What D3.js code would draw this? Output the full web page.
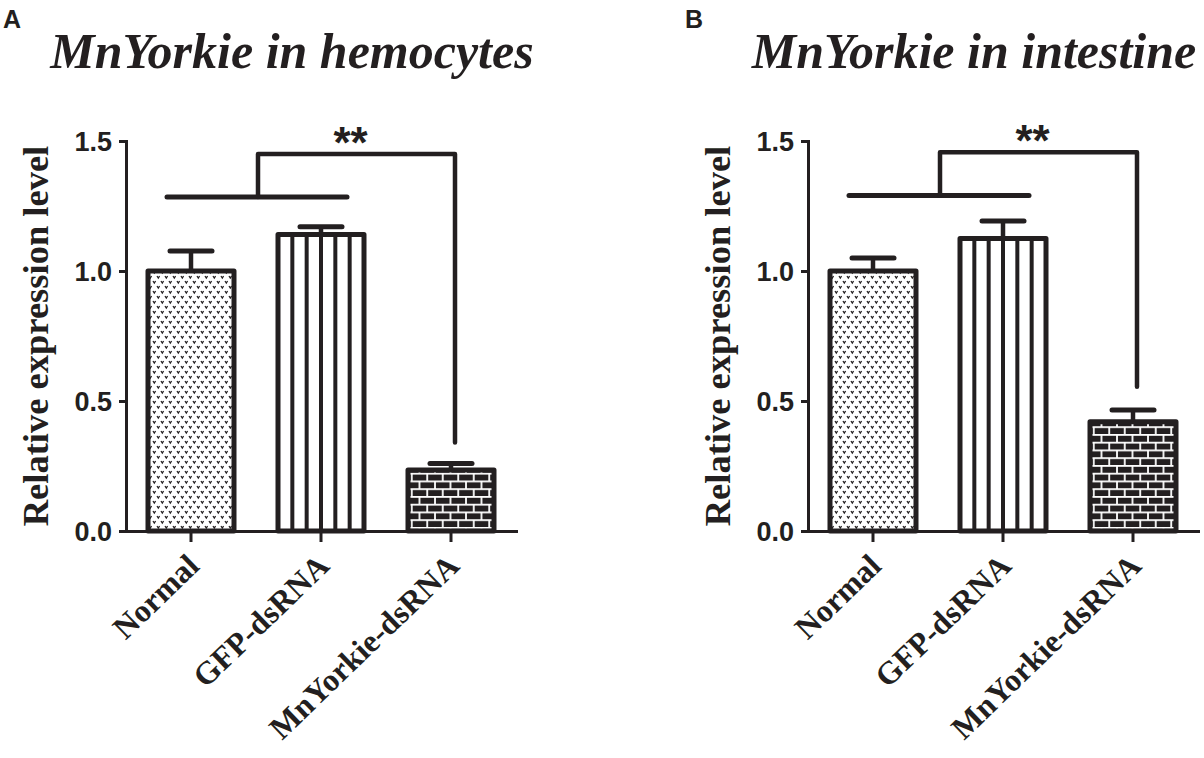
<!DOCTYPE html>
<html>
<head>
<meta charset="utf-8">
<script src="https://cdn.jsdelivr.net/npm/d3@7"></script>
<style>
  body { margin: 0; background: #fff; }
  svg { display: block; }
</style>
</head>
<body>
<script>
// 数据
const categories = ['Normal', 'GFP-dsRNA', 'MnYorkie-dsRNA']
const hemocytesMean = [1.0, 1.14, 0.235]
const hemocytesErr = [0.077, 0.03, 0.025]
const intestineMean = [1.0, 1.125, 0.42]
const intestineErr = [0.05, 0.067, 0.045]
const yTicks = [0.0, 0.5, 1.0, 1.5]
const titles = ['MnYorkie in hemocytes', 'MnYorkie in intestine']
const panelLetters = ['A', 'B']
const sigText = '**'
// 显著性括号: 组线高度, 顶部高度, 右端下降到
const groupLineY = [1.285, 1.29]
const bracketTopY = [1.45, 1.457]
const bracketEndY = [0.34, 0.555]

const ink = '#231f20'
const W = 1204, H = 758

const svg = d3.select('body').append('svg').attr('width', W).attr('height', H)

// 图案
const defs = svg.append('defs')

// 点状 v 图案
const dots = defs.append('pattern').attr('id', 'dots')
  .attr('patternUnits', 'userSpaceOnUse').attr('width', 8).attr('height', 10)
dots.append('rect').attr('width', 8).attr('height', 10).attr('fill', '#fff')
dots.selectAll('path').data([[1, 1], [5, 6]]).enter().append('path')
  .attr('d', d => `M${d[0]},${d[1]} l1.3,2 l1.3,-2`)
  .attr('fill', 'none').attr('stroke', ink).attr('stroke-width', 1.3)

// 砖块图案
const bw = 15.5, bh = 7.75
const brick = defs.append('pattern').attr('id', 'brick')
  .attr('patternUnits', 'userSpaceOnUse').attr('width', bw).attr('height', bh * 2)
brick.append('rect').attr('width', bw).attr('height', bh * 2).attr('fill', ink)
brick.append('g').attr('stroke', '#fff').attr('stroke-width', 1.8)
  .selectAll('line').data([
    [0, 0.9, bw, 0.9], [0, bh + 0.9, bw, bh + 0.9],
    [1, 0.9, 1, bh + 0.9], [1 + bw / 2, bh + 0.9, 1 + bw / 2, bh * 2 + 0.9]
  ]).enter().append('line')
  .attr('x1', d => d[0]).attr('y1', d => d[1]).attr('x2', d => d[2]).attr('y2', d => d[3])

const fills = ['url(#dots)', '#fff', 'url(#brick)']

let margin = { left: 126, top: 141, plotW: 390, plotH: 390 }

function drawPanel(i, means, errs) {
  const off = i * 682
  const g = svg.append('g').attr('transform', `translate(${off},0)`)

  const x = d3.scaleBand().domain(categories)
    .range([margin.left, margin.left + margin.plotW])
    .paddingInner(0.3).paddingOuter(0.15)
  const y = d3.scaleLinear().domain([0, 1.5])
    .range([margin.top + margin.plotH, margin.top])

  // 标题和字母
  g.append('text').attr('x', 3).attr('y', 28).text(panelLetters[i])
    .attr('font-family', 'Liberation Sans, Arial').attr('font-weight', 'bold')
    .attr('font-size', 25).attr('fill', ink)
  g.append('text').attr('x', 292).attr('y', 68).text(titles[i])
    .attr('text-anchor', 'middle')
    .attr('font-family', 'Liberation Serif, Times New Roman').attr('font-weight', 'bold')
    .attr('font-style', 'italic').attr('font-size', 50).attr('fill', ink)

  // y 轴标签
  g.append('text').attr('transform', `translate(48,${y(0.75)}) rotate(-90)`)
    .attr('text-anchor', 'middle').text('Relative expression level')
    .attr('font-family', 'Liberation Serif, Times New Roman').attr('font-weight', 'bold')
    .attr('font-size', 36.5).attr('fill', ink)

  // 柱子
  const rows = categories.map((c, k) => ({ c, v: means[k], e: errs[k], k }))
  const sw = 5
  g.selectAll('rect.bar').data(rows).enter().append('rect').attr('class', 'bar')
    .attr('x', d => x(d.c) + sw / 2).attr('width', x.bandwidth() - sw)
    .attr('y', d => y(d.v)).attr('height', d => y(0) - y(d.v))
    .attr('fill', d => fills[d.k]).attr('stroke', ink).attr('stroke-width', sw)
    .attr('stroke-linejoin', 'round')

  // GFP 竖条纹
  const gfp = rows[1]
  const inner = x.bandwidth() - sw
  g.selectAll('line.stripe').data(d3.range(1, 6)).enter().append('line')
    .attr('class', 'stripe')
    .attr('x1', j => x(gfp.c) + sw / 2 + inner * j / 6)
    .attr('x2', j => x(gfp.c) + sw / 2 + inner * j / 6)
    .attr('y1', y(gfp.v)).attr('y2', y(0))
    .attr('stroke', ink).attr('stroke-width', 4)

  // 误差线
  const cx = d => x(d.c) + x.bandwidth() / 2
  g.selectAll('line.err').data(rows).enter().append('line').attr('class', 'err')
    .attr('x1', cx).attr('x2', cx).attr('y1', d => y(d.v)).attr('y2', d => y(d.v + d.e))
    .attr('stroke', ink).attr('stroke-width', 4.5)
  g.selectAll('line.cap').data(rows).enter().append('line').attr('class', 'cap')
    .attr('x1', d => cx(d) - 21).attr('x2', d => cx(d) + 21)
    .attr('y1', d => y(d.v + d.e)).attr('y2', d => y(d.v + d.e))
    .attr('stroke', ink).attr('stroke-width', 5).attr('stroke-linecap', 'round')

  // 轴
  const yAxis = g.append('g').attr('transform', `translate(${margin.left},0)`)
    .call(d3.axisLeft(y).tickValues(yTicks).tickFormat(d3.format('.1f')).tickSize(7).tickSizeOuter(0))
  const xAxis = g.append('g').attr('transform', `translate(0,${y(0)})`)
    .call(d3.axisBottom(x).tickSize(11).tickSizeOuter(0))
  ;[yAxis, xAxis].forEach(a => {
    a.select('.domain').attr('stroke', ink).attr('stroke-width', 3).attr('stroke-linecap', 'square')
    a.selectAll('.tick line').attr('stroke', ink).attr('stroke-width', 3)
  })
  yAxis.selectAll('.tick text').attr('x', -14).attr('dy', '0.36em')
    .attr('font-family', 'Liberation Sans, Arial').attr('font-weight', 'bold')
    .attr('font-size', 27).attr('fill', ink)
  xAxis.selectAll('.tick text').attr('x', 0).attr('y', 0).attr('dy', 0)
    .attr('text-anchor', 'end')
    .attr('transform', 'translate(10,37) rotate(-44)')
    .attr('font-family', 'Liberation Serif, Times New Roman').attr('font-weight', 'bold')
    .attr('font-size', 32).attr('fill', ink)

  // 显著性括号
  const c0 = cx(rows[0]), c1 = cx(rows[1]), c2 = cx(rows[2])
  const mid = (c0 + c1) / 2 + 2
  const rx = c2 + 4
  g.append('line').attr('x1', c0 - 24).attr('x2', c1 + 26)
    .attr('y1', y(groupLineY[i])).attr('y2', y(groupLineY[i]))
    .attr('stroke', ink).attr('stroke-width', 5).attr('stroke-linecap', 'round')
  g.append('path')
    .attr('d', `M${mid},${y(groupLineY[i])}V${y(bracketTopY[i])}H${rx}V${y(bracketEndY[i])}`)
    .attr('fill', 'none').attr('stroke', ink).attr('stroke-width', 4.5)
    .attr('stroke-linejoin', 'round').attr('stroke-linecap', 'round')
  g.append('text').attr('x', (mid + rx) / 2 - 6).attr('y', y(bracketTopY[i]) + 4)
    .attr('text-anchor', 'middle').text(sigText)
    .attr('font-family', 'Liberation Sans, Arial').attr('font-weight', 'bold')
    .attr('font-size', 44).attr('fill', ink)
}

drawPanel(0, hemocytesMean, hemocytesErr)
drawPanel(1, intestineMean, intestineErr)
</script>
</body>
</html>
